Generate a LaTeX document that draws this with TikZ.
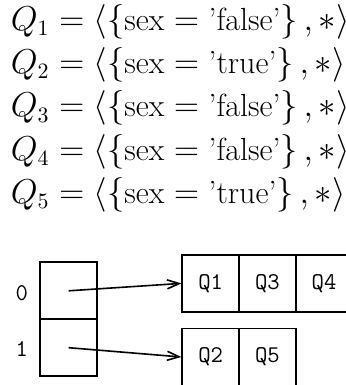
\documentclass[tikz,border=0pt]{standalone}
\usepackage{amsmath}
\usetikzlibrary{arrows.meta}
\begin{document}
\begin{tikzpicture}[x=0.5pt,y=0.5pt,
  eq/.style={anchor=west,inner sep=0pt,font=\fontsize{16}{20}\selectfont},
  cell/.style={draw,line width=0.8pt,minimum width=28.5pt,minimum height=28.5pt,inner sep=0pt,font=\fontsize{12}{14}\selectfont\ttfamily},
  lbl/.style={font=\fontsize{12}{14}\selectfont\ttfamily,inner sep=0pt},
  arr/.style={line width=0.8pt,-{Straight Barb[length=6pt,width=4.5pt]}}]
\useasboundingbox (0,0) rectangle (346,385);
\clip (0,0) rectangle (346,385);
% equations
\node[eq] (e1) at (10.5,363.3) {$Q_1 = \left\langle \left\{ \text{sex} = \text{'false'} \right\}, * \right\rangle$};
\node[eq] (e2) at (10.5,320) {$Q_2 = \left\langle \left\{ \text{sex} = \text{'true'} \right\}, * \right\rangle$};
\node[eq] (e3) at (10.5,276.7) {$Q_3 = \left\langle \left\{ \text{sex} = \text{'false'} \right\}, * \right\rangle$};
\node[eq] (e4) at (10.5,233.5) {$Q_4 = \left\langle \left\{ \text{sex} = \text{'false'} \right\}, * \right\rangle$};
\node[eq] (e5) at (10.5,190.5) {$Q_5 = \left\langle \left\{ \text{sex} = \text{'true'} \right\}, * \right\rangle$};
% hash table
\node[cell] (h0) at (68.7,94.2) {};
\node[cell] (h1) at (68.7,37.3) {};
\node[lbl] (n0) at (21.7,92.3) {0};
\node[lbl] (n1) at (21.7,35.7) {1};
% buckets
\node[cell] (q1) at (210.7,101.6) {Q1};
\node[cell] (q3) at (267.4,101.6) {Q3};
\node[cell] (q4) at (324.1,101.6) {Q4};
\node[cell] (q2) at (210.7,28) {Q2};
\node[cell] (q5) at (267.4,28) {Q5};
% pointers
\draw[arr] (h0.center) -- (q1.west);
\draw[arr] (h1.center) -- (q2.west);
\end{tikzpicture}
\end{document}
